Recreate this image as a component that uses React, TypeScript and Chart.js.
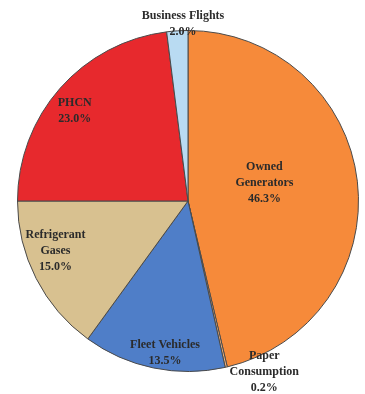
import React, { useEffect, useRef } from "react";
import { Chart, registerables } from "chart.js";

Chart.register(...registerables);

const categories = [
  "Owned Generators",
  "Paper Consumption",
  "Fleet Vehicles",
  "Refrigerant Gases",
  "PHCN",
  "Business Flights",
];
const values = [46.3, 0.2, 13.5, 15.0, 23.0, 2.0];
const labelLines = [
  ["Owned", "Generators"],
  ["Paper", "Consumption"],
  ["Fleet Vehicles"],
  ["Refrigerant", "Gases"],
  ["PHCN"],
  ["Business Flights"],
];
const colors = ["#F68A3A", "#F3B07A", "#4F7EC8", "#D8C190", "#E7292D", "#B9DBF2"];

// label placement: angle (deg clockwise from top) and radius fraction
const labelAngles = [77, 156, 188.6, 249.4, 308.6, 358.4];
const labelRadius = [0.46, 1.1, 0.9, 0.83, 0.85, 1.04];

const labelPlugin = {
  id: "sliceLabels",
  afterDatasetsDraw(chart: any) {
    const ctx = chart.ctx;
    const meta = chart.getDatasetMeta(0);
    const arc = meta.data[0];
    if (!arc) return;
    const cx = arc.x;
    const cy = arc.y;
    const R = arc.outerRadius;
    ctx.save();
    ctx.font = "bold 12px 'Liberation Serif', 'Times New Roman', serif";
    ctx.fillStyle = "#2b2b2b";
    ctx.textAlign = "center";
    ctx.textBaseline = "middle";
    const lh = 16;
    categories.forEach((_, i) => {
      const a = (labelAngles[i] * Math.PI) / 180;
      const r = R * labelRadius[i];
      const x = cx + r * Math.sin(a);
      const y = cy - r * Math.cos(a);
      const lines = [...labelLines[i], values[i].toFixed(1) + "%"];
      const top = y - ((lines.length - 1) * lh) / 2;
      lines.forEach((t, j) => ctx.fillText(t, x, top + j * lh));
    });
    ctx.restore();
  },
};

export default function App() {
  const ref = useRef<HTMLCanvasElement | null>(null);
  useEffect(() => {
    document.body.style.margin = "0";
    const chart = new Chart(ref.current as HTMLCanvasElement, {
      type: "pie",
      data: {
        labels: categories,
        datasets: [
          {
            data: values,
            backgroundColor: colors,
            borderColor: "#4a4a4a",
            borderWidth: 1,
          },
        ],
      },
      options: {
        responsive: false,
        animation: false,
        rotation: 0,
        layout: { padding: { top: 30, bottom: 22, left: 14, right: 3 } },
        plugins: {
          legend: { display: false },
          tooltip: { enabled: false },
        },
      },
      plugins: [labelPlugin],
    });
    return () => chart.destroy();
  }, []);
  return (
    <div style={{ width: 365, height: 394, background: "#fff" }}>
      <canvas ref={ref} width={365} height={394} />
    </div>
  );
}
